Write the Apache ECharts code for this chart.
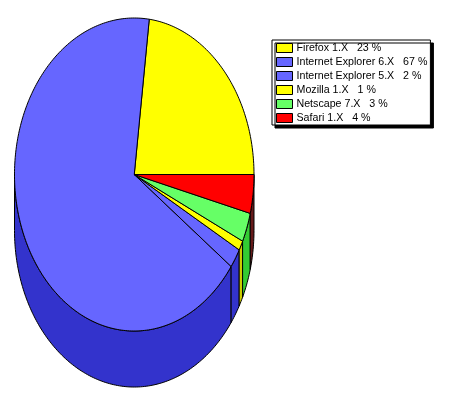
<!DOCTYPE html>
<html><head><meta charset="utf-8">
<style>html,body{margin:0;padding:0;background:#fff}#c{width:450px;height:400px}</style>
<script src="https://cdn.jsdelivr.net/npm/echarts@6/dist/echarts.min.js"></script>
</head><body><div id="c"></div>
<script>
const names = ['Firefox 1.X','Internet Explorer 6.X','Internet Explorer 5.X','Mozilla 1.X','Netscape 7.X','Safari 1.X'];
const values = [23,67,2,1,3,4];
const topColors = ['#ffff00','#6666ff','#6666ff','#ffff00','#66ff66','#ff0000'];
const sideColors = ['#cccc00','#3333cc','#3333cc','#cccc00','#33cc33','#661a1a'];

const DEPTH = 0.358; // rim depth in y-axis units
const total = values.reduce((a,b)=>a+b,0);
const rad = d => d*Math.PI/180;

function makeRender(idx){
  return function(params, api){
    let before = 0;
    for(let i=0;i<idx;i++) before += values[i];
    const a0 = before/total*360, a1 = (before+api.value(0))/total*360;
    const pt = (a,off)=>api.coord([Math.cos(rad(a)), Math.sin(rad(a))-(off||0)]);
    const children = [];
    const lo = Math.max(a0,180), hi = a1;
    if(hi>lo){
      const pts=[];
      for(let a=lo;a<=hi+1e-6;a+=Math.min(1,(hi-lo)/4)) pts.push(pt(a));
      pts.push(pt(hi));
      for(let a=hi;a>=lo-1e-6;a-=Math.min(1,(hi-lo)/4)) pts.push(pt(a,DEPTH));
      pts.push(pt(lo,DEPTH));
      children.push({type:'polygon',shape:{points:pts},style:{fill:sideColors[idx],stroke:'#000',lineWidth:1}});
    }
    const top=[api.coord([0,0])];
    const step=Math.min(1,(a1-a0)/4);
    for(let a=a0;a<a1;a+=step) top.push(pt(a));
    top.push(pt(a1));
    children.push({type:'polygon',shape:{points:top},style:{fill:topColors[idx],stroke:'#000',lineWidth:1}});
    return {type:'group',children};
  };
}

const chart = echarts.init(document.getElementById('c'),null,{renderer:'canvas'});
chart.setOption({
  animation:false,
  backgroundColor:'#fff',
  grid:{left:14.5,width:239.5,top:18,height:313},
  xAxis:{type:'value',min:-1,max:1,show:false},
  yAxis:{type:'value',min:-1,max:1,show:false},
  legend:{
    left:272,top:40,orient:'vertical',icon:'rect',
    itemWidth:16,itemHeight:9,itemGap:2,
    padding:[2,3,1,4],
    backgroundColor:'#fff',borderColor:'#000',borderWidth:1,
    shadowColor:'#000',shadowBlur:0,shadowOffsetX:3,shadowOffsetY:3,
    itemStyle:{borderColor:'#000',borderWidth:1},
    textStyle:{color:'#000',fontFamily:'"Liberation Sans",Arial,sans-serif',fontSize:10.67,lineHeight:9,padding:[3,0,0,-1]},
    data:names.map((n,i)=>`${n}   ${values[i]} %`),
    selectedMode:false
  },
  series:names.map((n,i)=>({
    type:'custom',
    name:`${n}   ${values[i]} %`,
    coordinateSystem:'cartesian2d',
    renderItem:makeRender(i),
    itemStyle:{color:topColors[i]},
    encode:{x:0},
    silent:true,
    clip:false,
    data:[[values[i]]]
  }))
});
</script></body></html>
